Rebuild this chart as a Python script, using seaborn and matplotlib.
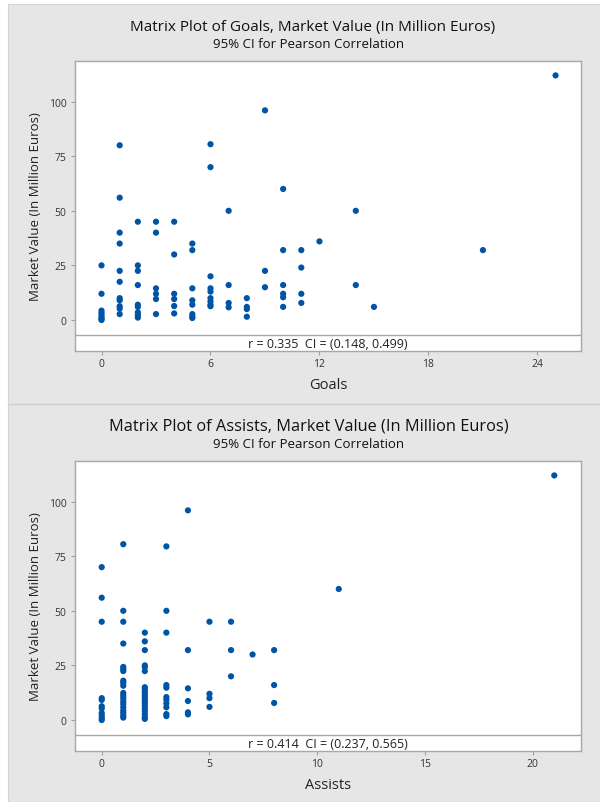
import matplotlib
matplotlib.use("Agg")
import matplotlib.pyplot as plt
import seaborn as sns
import pandas as pd
from matplotlib.patches import Rectangle
from matplotlib.lines import Line2D

# --- data ---
goals = (
    [0] * 8 + [1] * 11 + [2] * 9 + [3] * 6 + [4] * 6 + [5] * 8 + [6] * 9
    + [7] * 4 + [8] * 4 + [9] * 3 + [10] * 6 + [11] * 4 + [12] + [14] * 2
    + [15] + [21] + [25]
)
goals_value = [
    25, 12, 4.3, 3.2, 2.3, 1.2, 0.5, 0,
    80, 56, 40, 35, 22.5, 17.5, 10, 9, 6.3, 5.2, 2.7,
    45, 25, 22.5, 16, 7, 6, 3.5, 2.3, 1.1,
    45, 40, 14.5, 12, 9.6, 2.7,
    45, 30, 12, 9.6, 6.4, 3,
    35, 32, 14.5, 9, 7, 2.7, 1.5, 0.9,
    80.5, 70, 20, 14.5, 13, 10, 8.5, 7, 6.3,
    50, 16, 7.8, 5.8,
    10, 6, 5, 1.5,
    96, 22.5, 15,
    60, 32, 16, 12, 10.4, 6,
    32, 24, 12, 7.8,
    36,
    50, 16,
    6,
    32,
    112,
]

assists = (
    [0] * 11 + [1] * 20 + [2] * 20 + [3] * 11 + [4] * 6 + [5] * 4 + [6] * 3
    + [7] + [8] * 3 + [11] + [21]
)
assists_value = [
    70, 56, 45, 10, 9.2, 6.3, 5.3, 3.2, 2, 0.8, 0,
    80.5, 50, 45, 35, 24.3, 23.4, 22.4, 18, 17, 15.7, 12.4, 11.1, 9.9, 8.5,
    7.3, 5.8, 4.3, 3.2, 2, 1.1,
    40, 36, 32, 25, 24.3, 22.4, 15, 14.2, 13, 12.2, 11, 10, 9, 7.8, 6.6,
    5.3, 4, 2.6, 1.2, 0.5,
    79.5, 50, 40, 16, 14.8, 10.5, 9.3, 7.6, 5.8, 2.7, 1.8,
    96, 32, 14.5, 8.7, 3.5, 2.6,
    45, 12, 10, 6,
    45, 32, 20,
    30,
    32, 16, 7.8,
    60,
    112,
]

panels = [
    ("Goals", goals, goals_value, [0, 6, 12, 18, 24], (-1.46, 26.4),
     "r = 0.335  CI = (0.148, 0.499)", 11, 313),
    ("Assists", assists, assists_value, [0, 5, 10, 15, 20], (-1.24, 22.24),
     "r = 0.414  CI = (0.237, 0.565)", 11.8, 309),
]

sns.set_style("white")
plt.rcParams["font.family"] = ["Open Sans", "DejaVu Sans"]

W, H = 600, 803
fig = plt.figure(figsize=(W / 100, H / 100), dpi=100)
fig.patch.set_facecolor("white")

bg = "#e6e6e6"
fig.patches.append(Rectangle((8 / W, 0), 1 - 8 / W, 1 - 5 / H,
                             transform=fig.transFigure, facecolor=bg,
                             edgecolor="#d4d4d4", linewidth=0.8, zorder=-10))
fig.lines.append(Line2D([8 / W, 1], [1 - 405 / H, 1 - 405 / H],
                        transform=fig.transFigure, color="#cfcfcf", lw=1))

ylabel = "Market Value (In Million Euros)"
for i, (name, xs, ys, xticks, xlim, rtext, tsize, tx) in enumerate(panels):
    off = 400 * i
    top, bot = 62 + off, 352 + off
    ax = fig.add_axes([75 / W, 1 - bot / H, 506 / W, (bot - top) / H])
    df = pd.DataFrame({name: xs, ylabel: ys})
    sns.scatterplot(data=df, x=name, y=ylabel, ax=ax, color="#0054a6",
                    s=20, edgecolor="none", linewidth=0)
    ax.set_facecolor("white")
    ax.set_xlim(*xlim)
    ax.set_ylim(-14.2, 118.6)
    ax.set_xticks(xticks)
    ax.set_yticks([0, 25, 50, 75, 100])
    for sp in ax.spines.values():
        sp.set_color("#a8a8a8")
        sp.set_linewidth(1)
    ax.tick_params(axis="both", which="both", length=3, width=0.8,
                   color="#a0a0a0", labelsize=7.5, labelcolor="#333333",
                   direction="out", left=True, bottom=True)
    ax.tick_params(axis="x", pad=2)
    ax.tick_params(axis="y", pad=3)
    ax.axhline(-6.9, color="#a8a8a8", lw=1)
    ax.text(sum(xlim) / 2, -10.6, rtext, ha="center", va="center",
            fontsize=9, color="#222222")
    ax.set_xlabel(name, fontsize=10.5, color="#222222", labelpad=6)
    ax.set_ylabel(ylabel, fontsize=9.5, color="#222222", labelpad=5)

    fig.text(tx / W, 1 - (27 + off) / H,
             f"Matrix Plot of {name}, Market Value (In Million Euros)",
             ha="center", va="center", fontsize=tsize, color="#111111")
    fig.text(309 / W, 1 - (45 + off) / H,
             "95% CI for Pearson Correlation",
             ha="center", va="center", fontsize=9.5, color="#111111")

fig.savefig("out.png", dpi=100)
